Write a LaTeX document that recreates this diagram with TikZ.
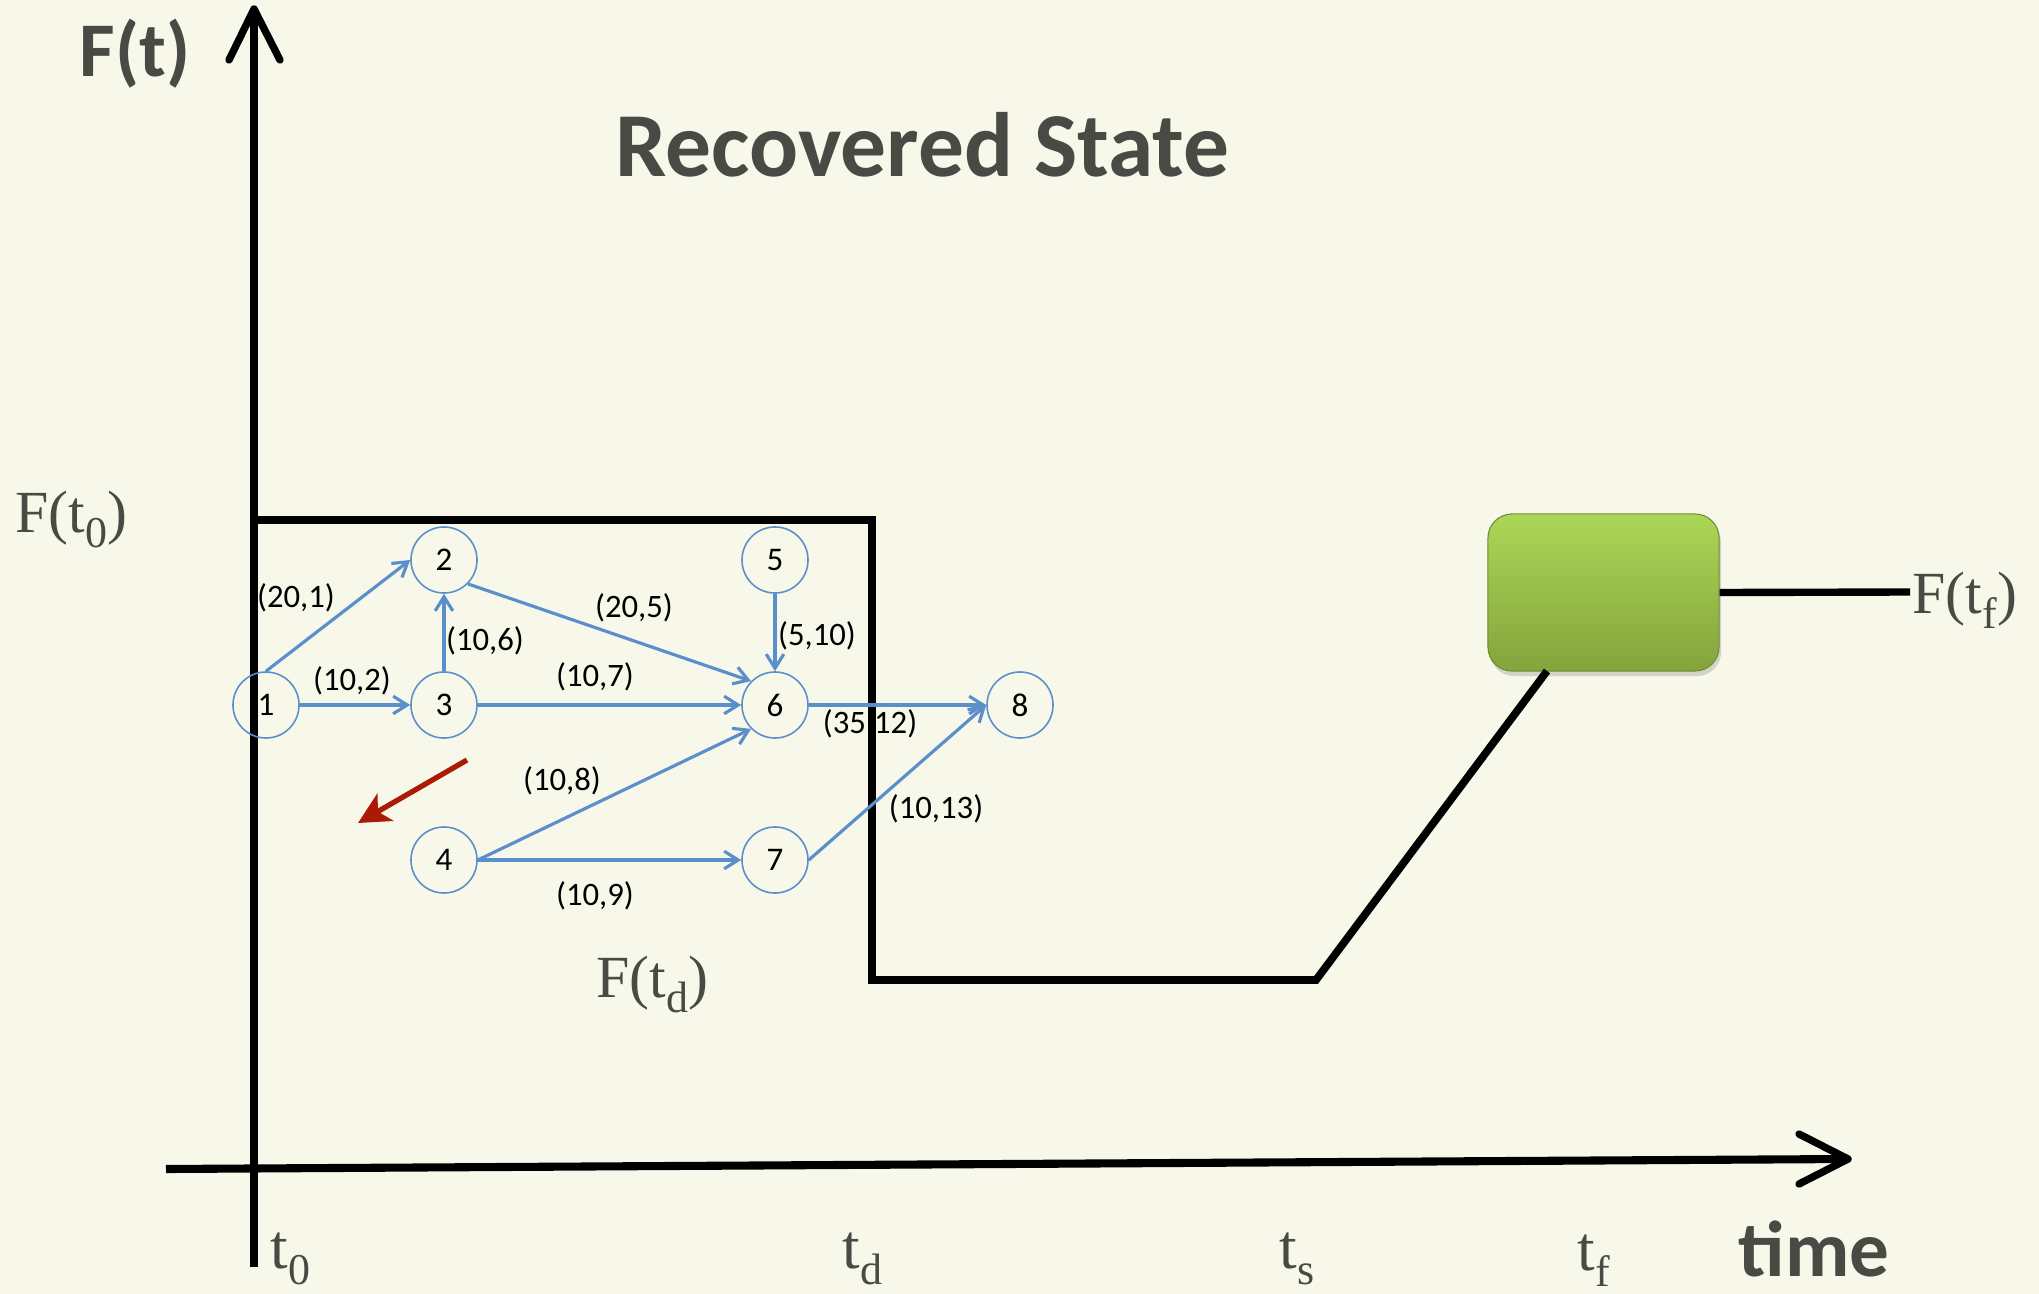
\documentclass[tikz,border=0pt]{standalone}
\usepackage{fontspec}
\setmainfont{Liberation Serif}
\newfontfamily\calfont{Carlito}
\usetikzlibrary{arrows.meta,shadows}
\definecolor{bg}{HTML}{F7F8EA}
\definecolor{txtgray}{HTML}{4A4A45}
\definecolor{edgeblue}{HTML}{5A8FCC}
\definecolor{arrred}{HTML}{AA1A05}
\definecolor{gtop}{HTML}{ACD657}
\definecolor{gbot}{HTML}{84A43C}
\newcommand{\mysub}[1]{\raisebox{-0.26em}{\fontsize{12.5}{13}\selectfont #1}}
\begin{document}
\begin{tikzpicture}[x=0.01cm,y=-0.01cm,
  axisline/.style={line width=2.1pt},
  wing/.style={line width=2.1pt, line cap=round, line join=round},
  fline/.style={line width=2.2pt, line join=miter},
  vtx/.style={circle, draw=edgeblue, line width=0.45pt, minimum size=0.66cm, inner sep=0pt, font=\calfont\fontsize{9.4}{10}\selectfont},
  edge/.style={draw=edgeblue, line width=0.9pt, -{Straight Barb[length=4pt,width=5pt]}},
  elab/.style={font=\calfont\fontsize{9.3}{10}\selectfont, inner sep=0pt},
  serif/.style={text=txtgray, font=\fontsize{17}{20}\selectfont, inner sep=0pt, anchor=base west},
  tlab/.style={text=txtgray, font=\fontsize{18}{20}\selectfont, inner sep=0pt, anchor=base west},
  sansbold/.style={text=txtgray, inner sep=0pt, anchor=base west},
]
\fill[bg] (0,0) rectangle (2039,1294);
\useasboundingbox (0,0) rectangle (2039,1294);

% texts
\node[sansbold, font=\calfont\bfseries\fontsize{22}{24}\selectfont] (ft) at (79,77) {F(t)};
\node[sansbold, font=\calfont\bfseries\fontsize{26}{28}\selectfont] (title) at (615,176) {Recovered State};
\node[sansbold, font=\calfont\bfseries\fontsize{22.5}{24}\selectfont] (time) at (1738,1276) {time};
\node[serif] (ft0) at (15,532) {F(t\mysub{0})};
\node[serif] (ftd) at (596,997) {F(t\mysub{d})};
\node[serif] (ftf) at (1912,613) {F(t\mysub{f})};
\node[tlab] (t0) at (270,1268) {t\mysub{0}};
\node[tlab] (td) at (842,1268) {t\mysub{d}};
\node[tlab] (ts) at (1279,1268) {t\mysub{s}};
\node[tlab] (tf) at (1577,1270) {t\mysub{f}};

% edge labels
\node[elab] (l1) at (296,598) {(20,1)};
\node[elab] (l2) at (352,681) {(10,2)};
\node[elab] (l6) at (485,641) {(10,6)};
\node[elab] (l5) at (634,608) {(20,5)};
\node[elab] (l10) at (817,636) {(5,10)};
\node[elab] (l7) at (595,677) {(10,7)};
\node[elab] (l12) at (870,724) {(35,12)};
\node[elab] (l8) at (562,781) {(10,8)};
\node[elab] (l9) at (595,896) {(10,9)};
\node[elab] (l13) at (936,809) {(10,13)};

% axes
\coordinate (yb) at (254,1267);
\coordinate (yt) at (254,9);
\draw[axisline] (yb) -- (yt);
\draw[wing] (229,60) -- (yt) -- (280,60);
\coordinate (xl) at (166,1169);
\coordinate (xr) at (1848,1159);
\draw[line width=2.3pt] (xl) -- (xr);
\draw[wing] (1799,1134) -- (xr) -- (1799,1184);

% green box
\node[rounded corners=0.24cm, minimum width=2.31cm, minimum height=1.57cm,
      top color=gtop, bottom color=gbot, draw=gbot!85!black, line width=0.3pt,
      drop shadow={shadow xshift=0.02cm, shadow yshift=-0.05cm, opacity=0.3}] (gb) at (1603.5,592.5) {};

% function line
\coordinate (p0) at (254,520);
\coordinate (p1) at (872,520);
\coordinate (p2) at (872,980);
\coordinate (p3) at (1316,980);
\coordinate (p4) at (1547,671);
\draw[fline] (p0) -- (p1) -- (p2) -- (p3) -- (p4);
\coordinate (ftfl) at (1910,592);
\draw[line width=2.1pt] (gb.east) -- (ftfl);

% network nodes
\node[vtx] (n1) at (266,705) {1};
\node[vtx] (n2) at (444,560) {2};
\node[vtx] (n3) at (444,705) {3};
\node[vtx] (n4) at (444,860) {4};
\node[vtx] (n5) at (775,560) {5};
\node[vtx] (n6) at (775,705) {6};
\node[vtx] (n7) at (775,860) {7};
\node[vtx] (n8) at (1020,705) {8};

\draw[edge] (n1.north) -- (n2.west);
\draw[edge] (n1.east) -- (n3.west);
\draw[edge] (n3.north) -- (n2.south);
\draw[edge] (n2.south east) -- (n6.north west);
\draw[edge] (n3.east) -- (n6.west);
\draw[edge] (n5.south) -- (n6.north);
\draw[edge] (n4.east) -- (n6.south west);
\draw[edge] (n4.east) -- (n7.west);
\draw[edge] (n6.east) -- (n8.west);
\draw[edge] (n7.east) -- (n8.west);

% red arrow
\coordinate (ra) at (467,760);
\coordinate (rb) at (358,823);
\draw[arrred, line width=1.5pt, -{Stealth[length=9pt,width=9pt,inset=2.5pt]}] (ra) -- (rb);
\end{tikzpicture}
\end{document}
